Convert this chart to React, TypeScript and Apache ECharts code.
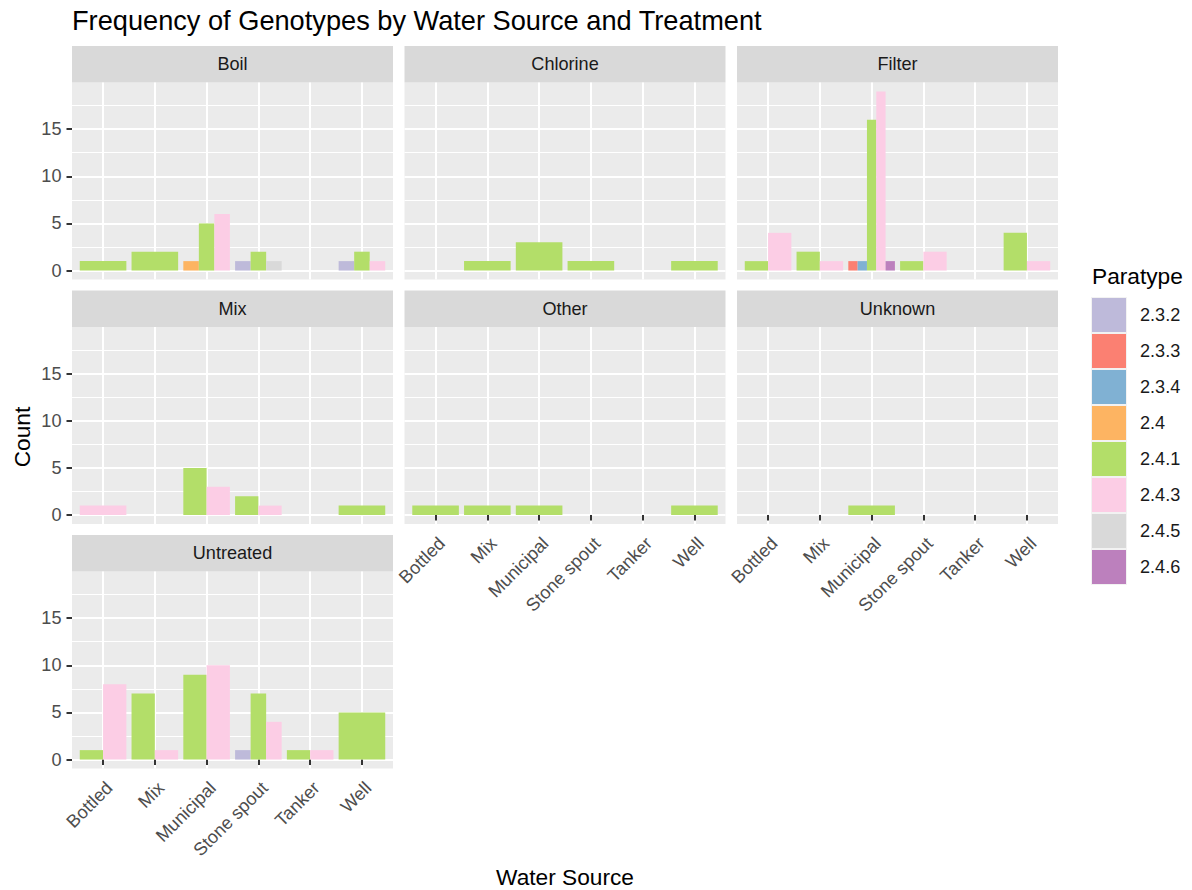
import React, { useEffect, useRef } from "react";
import * as echarts from "echarts";

const treatments = ["Boil", "Chlorine", "Filter", "Mix", "Other", "Unknown", "Untreated"];
const waterSources = ["Bottled", "Mix", "Municipal", "Stone spout", "Tanker", "Well"];
const paratypes = ["2.3.2", "2.3.3", "2.3.4", "2.4", "2.4.1", "2.4.3", "2.4.5", "2.4.6"];
const paratypeColors = ["#BEBADA", "#FB8072", "#80B1D3", "#FDB462", "#B3DE69", "#FCCDE5", "#D9D9D9", "#BC80BD"];

// [water source, paratype, count]
const boilCounts: [string, string, number][] = [
  ["Bottled", "2.4.1", 1],
  ["Mix", "2.4.1", 2],
  ["Municipal", "2.4", 1], ["Municipal", "2.4.1", 5], ["Municipal", "2.4.3", 6],
  ["Stone spout", "2.3.2", 1], ["Stone spout", "2.4.1", 2], ["Stone spout", "2.4.5", 1],
  ["Well", "2.3.2", 1], ["Well", "2.4.1", 2], ["Well", "2.4.3", 1],
];
const chlorineCounts: [string, string, number][] = [
  ["Mix", "2.4.1", 1],
  ["Municipal", "2.4.1", 3],
  ["Stone spout", "2.4.1", 1],
  ["Well", "2.4.1", 1],
];
const filterCounts: [string, string, number][] = [
  ["Bottled", "2.4.1", 1], ["Bottled", "2.4.3", 4],
  ["Mix", "2.4.1", 2], ["Mix", "2.4.3", 1],
  ["Municipal", "2.3.3", 1], ["Municipal", "2.3.4", 1], ["Municipal", "2.4.1", 16], ["Municipal", "2.4.3", 19], ["Municipal", "2.4.6", 1],
  ["Stone spout", "2.4.1", 1], ["Stone spout", "2.4.3", 2],
  ["Well", "2.4.1", 4], ["Well", "2.4.3", 1],
];
const mixCounts: [string, string, number][] = [
  ["Bottled", "2.4.3", 1],
  ["Municipal", "2.4.1", 5], ["Municipal", "2.4.3", 3],
  ["Stone spout", "2.4.1", 2], ["Stone spout", "2.4.3", 1],
  ["Well", "2.4.1", 1],
];
const otherCounts: [string, string, number][] = [
  ["Bottled", "2.4.1", 1],
  ["Mix", "2.4.1", 1],
  ["Municipal", "2.4.1", 1],
  ["Well", "2.4.1", 1],
];
const unknownCounts: [string, string, number][] = [["Municipal", "2.4.1", 1]];
const untreatedCounts: [string, string, number][] = [
  ["Bottled", "2.4.1", 1], ["Bottled", "2.4.3", 8],
  ["Mix", "2.4.1", 7], ["Mix", "2.4.3", 1],
  ["Municipal", "2.4.1", 9], ["Municipal", "2.4.3", 10],
  ["Stone spout", "2.3.2", 1], ["Stone spout", "2.4.1", 7], ["Stone spout", "2.4.3", 4],
  ["Tanker", "2.4.1", 1], ["Tanker", "2.4.3", 1],
  ["Well", "2.4.1", 5],
];

const yMajorTicks = [0, 5, 10, 15];
const yMinorTicks = [2.5, 7.5, 12.5, 17.5];

const facetCounts = [boilCounts, chlorineCounts, filterCounts, mixCounts, otherCounts, unknownCounts, untreatedCounts];

const FONT = "Liberation Sans, Arial, Helvetica, sans-serif";
const SMALL = 18.1;
const MED = 22.7;
const BIG = 27.2;

function buildOption() {
  const PANEL_LEFT = 72;
  const COL_STEP = 332.5;
  const PANEL_W = 321;
  const STRIP_TOP = 46;
  const ROW_STEP = 244.5;
  const STRIP_H = 36.5;
  const PANEL_H = 197;

  const maxCount = Math.max(...facetCounts.flat().map((d) => d[2] as number));
  const yMin = -0.05 * maxCount;
  const yMax = maxCount * 1.05;
  const xTickValues = waterSources.map((_, i) => i + 1);

  const grids: any[] = [];
  const xAxes: any[] = [];
  const yAxes: any[] = [];
  const graphics: any[] = [];
  const series: any[] = [];

  const nFacets = treatments.length;
  const isBottom = (i: number) => i + 3 >= nFacets;

  treatments.forEach((t, i) => {
    const col = i % 3;
    const row = Math.floor(i / 3);
    const left = PANEL_LEFT + col * COL_STEP;
    const stripTop = STRIP_TOP + row * ROW_STEP;
    const top = stripTop + STRIP_H;

    grids.push({
      left, top, width: PANEL_W, height: PANEL_H,
      show: true, backgroundColor: "#EBEBEB", borderWidth: 0,
      containLabel: false, outerBoundsMode: "none",
    });

    xAxes.push({
      type: "value", gridIndex: i, min: 0.4, max: 6.6,
      axisLine: { show: false },
      axisTick: { show: isBottom(i), customValues: xTickValues, length: 5.5, lineStyle: { color: "#333333", width: 2 } },
      axisLabel: {
        show: isBottom(i), customValues: xTickValues,
        formatter: (v: number) => waterSources[Math.round(v) - 1] ?? "",
        rotate: 45, align: "right", verticalAlign: "top", margin: 10,
        fontSize: SMALL, color: "#4D4D4D", fontFamily: FONT,
      },
      splitLine: { show: true, lineStyle: { color: "#FFFFFF", width: 2 } },
    });

    yAxes.push({
      type: "value", gridIndex: i, min: yMin, max: yMax, position: "left",
      axisLine: { show: false },
      axisTick: { show: col === 0, customValues: yMajorTicks, length: 5.5, lineStyle: { color: "#333333", width: 2 } },
      axisLabel: { show: col === 0, customValues: yMajorTicks, margin: 10.5, fontSize: SMALL, color: "#4D4D4D", fontFamily: FONT },
      splitLine: { show: true, lineStyle: { color: "#FFFFFF", width: 2 } },
    });
    yAxes.push({
      type: "value", gridIndex: i, min: yMin, max: yMax, position: "left",
      axisLine: { show: false },
      axisTick: { show: false, customValues: yMinorTicks },
      axisLabel: { show: false, customValues: yMinorTicks },
      splitLine: { show: true, lineStyle: { color: "#FFFFFF", width: 1 } },
    });

    graphics.push({
      type: "rect", shape: { x: left, y: stripTop, width: PANEL_W, height: STRIP_H },
      style: { fill: "#D9D9D9" }, silent: true,
    });
    graphics.push({
      type: "text", x: left + PANEL_W / 2, y: stripTop + STRIP_H / 2,
      style: { text: t, fill: "#1A1A1A", font: `${SMALL}px ${FONT}`, textAlign: "center", textVerticalAlign: "middle" },
      silent: true,
    });

    // dodge: bars at each water source split the 0.9 width among present paratypes
    const counts = facetCounts[i];
    const perParatype: any[][] = paratypes.map(() => []);
    waterSources.forEach((ws, si) => {
      const items = counts
        .filter((d) => d[0] === ws)
        .sort((a, b) => paratypes.indexOf(a[1]) - paratypes.indexOf(b[1]));
      items.forEach((d, slot) => {
        perParatype[paratypes.indexOf(d[1])].push([si + 1, d[2], slot, items.length]);
      });
    });
    perParatype.forEach((data, pi) => {
      series.push({
        type: "custom", name: paratypes[pi],
        xAxisIndex: i, yAxisIndex: 2 * i,
        itemStyle: { color: paratypeColors[pi] },
        encode: { x: 0, y: 1 },
        data,
        renderItem: (params: any, api: any) => {
          const x = api.value(0);
          const v = api.value(1);
          const slot = api.value(2);
          const n = api.value(3);
          const unit = api.size([1, 0])[0];
          const base = api.coord([x, 0]);
          const topPt = api.coord([x, v]);
          const w = (0.9 * unit) / n;
          const l = base[0] - 0.45 * unit + slot * w;
          return {
            type: "rect",
            shape: { x: l, y: topPt[1], width: w, height: base[1] - topPt[1] },
            style: { fill: api.visual("color") },
          };
        },
      });
    });
  });

  graphics.push({
    type: "text", x: 72, y: 20,
    style: { text: "Frequency of Genotypes by Water Source and Treatment", fill: "#000000", font: `${BIG}px ${FONT}`, textAlign: "left", textVerticalAlign: "middle" },
  });
  graphics.push({
    type: "text", x: 22, y: 437, rotation: Math.PI / 2,
    style: { text: "Count", fill: "#000000", font: `${MED}px ${FONT}`, textAlign: "center", textVerticalAlign: "middle" },
  });
  graphics.push({
    type: "text", x: 565, y: 877,
    style: { text: "Water Source", fill: "#000000", font: `${MED}px ${FONT}`, textAlign: "center", textVerticalAlign: "middle" },
  });
  graphics.push({
    type: "text", x: 1092, y: 276,
    style: { text: "Paratype", fill: "#000000", font: `${MED}px ${FONT}`, textAlign: "left", textVerticalAlign: "middle" },
  });
  paratypes.forEach((_, k) => {
    graphics.push({
      type: "rect", z: -1,
      shape: { x: 1091, y: 297 + k * 36, width: 36, height: 36 },
      style: { fill: "#F2F2F2" }, silent: true,
    });
  });

  return {
    animation: false,
    backgroundColor: "#FFFFFF",
    textStyle: { fontFamily: FONT },
    grid: grids,
    xAxis: xAxes,
    yAxis: yAxes,
    series,
    legend: {
      data: paratypes, orient: "vertical", left: 1092, top: 298,
      itemWidth: 34, itemHeight: 34, itemGap: 2, icon: "rect", padding: 0,
      selectedMode: false,
      textStyle: { fontSize: SMALL, color: "#1A1A1A", fontFamily: FONT, padding: [0, 0, 0, 9] },
    },
    graphic: graphics,
  };
}

export default function App() {
  const ref = useRef<HTMLDivElement>(null);
  useEffect(() => {
    document.body.style.margin = "0";
    document.body.style.overflow = "hidden";
    const chart = echarts.init(ref.current!, undefined, { renderer: "svg" });
    chart.setOption(buildOption() as any);
    return () => chart.dispose();
  }, []);
  return <div ref={ref} style={{ width: 1192, height: 890 }} />;
}
